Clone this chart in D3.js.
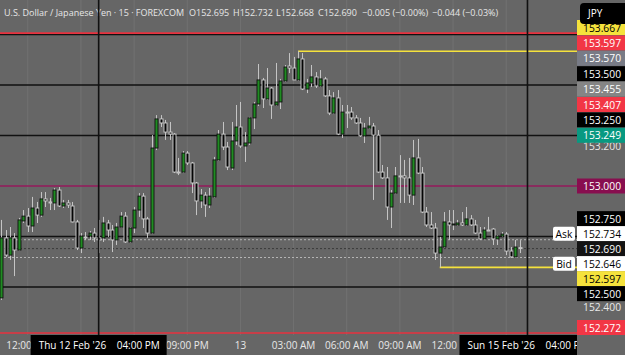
<!DOCTYPE html>
<html>
<head>
<meta charset="utf-8">
<script src="https://cdn.jsdelivr.net/npm/d3@7"></script>
<style>
html, body { margin: 0; padding: 0; background: #666666; overflow: hidden; }
svg { display: block; font-family: "Open Sans", sans-serif; }
</style>
</head>
<body>
<script>
// 15 min candles, USDJPY (FOREXCOM), index 0 = first visible bar
const opens = [152.446,152.743,152.658,152.743,152.683,152.827,152.851,152.802,152.891,152.856,
  152.936,152.921,152.916,152.980,152.901,152.916,152.901,152.822,152.693,152.748,
  152.752,152.767,152.743,152.743,152.817,152.782,152.733,152.797,152.851,152.723,
  152.792,152.881,152.950,152.837,152.767,153.188,153.332,153.312,153.267,153.257,
  153.069,153.069,153.163,153.114,153.015,152.926,152.955,152.906,152.946,153.129,
  153.257,153.193,153.089,153.223,153.292,153.198,153.213,153.337,153.406,153.525,
  153.431,153.485,153.401,153.416,153.520,153.594,153.584,153.525,153.629,153.480,
  153.510,153.540,153.495,153.530,153.446,153.361,153.436,153.257,153.366,153.366,
  153.337,153.312,153.248,153.287,153.297,153.252,153.069,153.040,152.896,152.965,
  153.050,153.050,153.040,152.955,153.139,153.064,152.871,152.807,152.792,152.668,
  152.698,152.822,152.807,152.807,152.817,152.807,152.837,152.807,152.767,152.738,
  152.782,152.787,152.738,152.752,152.762,152.678,152.649,152.695];
const highs = [152.832,152.782,152.797,152.767,152.842,152.881,152.891,152.946,152.921,152.970,
  152.970,152.941,152.990,152.995,152.931,152.931,152.921,152.832,152.767,152.772,
  152.777,152.792,152.832,152.847,152.832,152.807,152.817,152.871,152.871,152.797,
  152.896,152.965,152.965,152.847,153.252,153.351,153.351,153.327,153.317,153.262,
  153.139,153.173,153.173,153.119,153.020,152.985,152.970,152.990,153.144,153.277,
  153.317,153.218,153.317,153.401,153.416,153.267,153.342,153.416,153.604,153.535,
  153.584,153.490,153.609,153.530,153.599,153.658,153.639,153.667,153.658,153.530,
  153.599,153.564,153.574,153.540,153.475,153.465,153.475,153.401,153.401,153.391,
  153.351,153.337,153.312,153.342,153.312,153.277,153.104,153.094,152.980,153.094,
  153.153,153.129,153.139,153.228,153.233,153.094,152.896,152.871,152.817,152.748,
  152.871,152.881,152.881,152.832,152.871,152.896,152.856,152.832,152.797,152.797,
  152.847,152.792,152.757,152.772,152.772,152.698,152.733,152.732];
const lows = [152.436,152.649,152.634,152.554,152.680,152.817,152.772,152.772,152.817,152.847,
  152.896,152.881,152.881,152.896,152.891,152.891,152.820,152.683,152.668,152.733,
  152.733,152.723,152.668,152.723,152.748,152.673,152.708,152.795,152.718,152.718,
  152.767,152.847,152.792,152.743,152.762,153.178,153.292,153.228,153.228,153.064,
  153.054,153.064,153.104,152.965,152.856,152.891,152.847,152.891,152.941,153.124,
  153.178,153.079,153.079,153.203,153.188,153.119,153.203,153.282,153.396,153.386,
  153.426,153.332,153.396,153.381,153.515,153.559,153.525,153.520,153.475,153.460,
  153.490,153.485,153.490,153.441,153.351,153.356,153.252,153.238,153.287,153.327,
  153.307,153.243,153.213,153.282,152.931,153.064,153.035,152.832,152.792,152.960,
  152.916,152.916,152.916,152.906,153.059,152.866,152.797,152.787,152.634,152.597,
  152.693,152.733,152.782,152.802,152.802,152.802,152.802,152.762,152.733,152.733,
  152.777,152.708,152.708,152.748,152.658,152.644,152.644,152.668];
const closes = [152.743,152.658,152.743,152.683,152.832,152.851,152.802,152.891,152.856,152.936,
  152.926,152.916,152.980,152.901,152.916,152.906,152.822,152.693,152.752,152.745,
  152.767,152.743,152.733,152.817,152.782,152.733,152.797,152.851,152.723,152.792,
  152.881,152.950,152.837,152.767,153.188,153.332,153.312,153.267,153.257,153.069,
  153.064,153.163,153.114,153.015,152.926,152.955,152.906,152.950,153.129,153.257,
  153.193,153.094,153.223,153.292,153.198,153.213,153.337,153.406,153.525,153.431,
  153.485,153.401,153.416,153.520,153.589,153.584,153.525,153.629,153.480,153.510,
  153.540,153.495,153.530,153.446,153.361,153.436,153.257,153.366,153.361,153.337,
  153.312,153.248,153.287,153.297,153.252,153.069,153.040,152.896,152.965,153.050,
  153.047,153.040,152.955,153.139,153.064,152.871,152.807,152.792,152.668,152.698,
  152.822,152.807,152.812,152.817,152.807,152.837,152.807,152.767,152.738,152.782,
  152.780,152.738,152.752,152.762,152.678,152.649,152.698,152.690];

// time axis: bar index -> label
const timeTickIdx = [6, 18, 30, 42, 54, 66, 78, 90, 102, 114];
const timeTickLabels = ["12:00 PM","03:00 PM","06:00 PM","09:00 PM","13","03:00 AM","06:00 AM","09:00 AM","12:00 PM","03:00 PM"];

// price axis
const priceTicks = [152.4, 152.6, 152.8, 153.2, 153.4, 153.6, 153.8];
const blackLevels = [153.75, 153.5, 153.25, 152.75, 152.5, 152.25];
const redLevels = [153.757, 152.272];
const roundLevel = 153.0;
const highMark = { idx: 67, price: 153.667 };
const lowMark = { idx: 99, price: 152.597 };
const askPrice = 152.734, lastPrice = 152.690, bidPrice = 152.646;

// crosshair / session markers
const markerIdx = [22, 118.8];
const markerDates = ["Thu 12 Feb '26", "Sun 15 Feb '26"];
const markerTimes = ["04:00 PM", "04:00 PM"];

// right scale tags
const tagTopText = ["153.667","153.597","153.570","153.500","153.455","153.407","153.250","153.249"];
const tagTopFill = ["#f5e23c","#f23645","#787b86","#000000","#858585","#f23645","#000000","#089981"];
const tagTopInk  = ["#000","#fff","#fff","#fff","#fff","#fff","#fff","#fff"];
const tagLowText = ["152.750","152.734","152.690","152.646","152.597","152.500"];
const tagLowFill = ["#000000","#ffffff","#131313","#ffffff","#f5e23c","#000000"];
const tagLowInk  = ["#fff","#000","#fff","#000","#000","#fff"];

const W = 625, H = 355;
const plotRight = 577, plotBottom = 335;
const bg = "#666666";
const boxHalf = 68;

const svg = d3.select("body").append("svg").attr("width", W).attr("height", H);
svg.append("rect").attr("width", W).attr("height", H).attr("fill", bg);

const x = d3.scaleLinear().domain([0, 117]).range([1.2, 519.5]);
const y = d3.scaleLinear().domain([152.25, 153.75]).range([337.5, 34.5]);

const plot = svg.append("g");
const clip = svg.append("clipPath").attr("id", "plotclip");
clip.append("rect").attr("x", 0).attr("y", 0).attr("width", plotRight).attr("height", plotBottom);
plot.attr("clip-path", "url(#plotclip)");

// faint time grid
plot.selectAll(".vgrid").data(timeTickIdx).join("line")
  .attr("x1", d => x(d)).attr("x2", d => x(d))
  .attr("y1", 0).attr("y2", plotBottom)
  .attr("stroke", "#727272").attr("stroke-width", 1);

// header text
const head = svg.append("g").attr("fill", "#e6e6e6").attr("font-size", 9);
head.append("text").attr("x", 4).attr("y", 16).text("U.S. Dollar / Japanese Yen · 15 · FOREXCOM");
const ohlcText = ["O" + opens[117].toFixed(3), "H" + highs[117].toFixed(3), "L" + lows[117].toFixed(3), "C" + closes[117].toFixed(3), "−0.005 (−0.00%)", "−0.044 (−0.03%)"];
const ohlcX = [189, 233, 276, 318, 362, 432];
head.selectAll(".ohlc").data(ohlcText).join("text")
  .attr("x", (d, i) => ohlcX[i]).attr("y", 16).text(d => d);

// level lines
plot.selectAll(".blk").data(blackLevels).join("line")
  .attr("x1", 0).attr("x2", plotRight)
  .attr("y1", d => y(d)).attr("y2", d => y(d))
  .attr("stroke", "#111").attr("stroke-width", 1.6);
plot.selectAll(".red").data(redLevels).join("line")
  .attr("x1", 0).attr("x2", plotRight)
  .attr("y1", d => y(d)).attr("y2", d => y(d))
  .attr("stroke", "#e8323f").attr("stroke-width", 1.6);
plot.append("line").attr("x1", 0).attr("x2", plotRight)
  .attr("y1", y(roundLevel)).attr("y2", y(roundLevel))
  .attr("stroke", "#961a5c").attr("stroke-width", 1.6);

// ask / last / bid dashed
[[askPrice, "#b4b4b4"], [lastPrice, "#3a3a3a"], [bidPrice, "#b4b4b4"]].forEach(([p, c]) => {
  plot.append("line").attr("x1", 0).attr("x2", plotRight)
    .attr("y1", y(p)).attr("y2", y(p))
    .attr("stroke", c).attr("stroke-width", 1).attr("stroke-dasharray", "2,2");
});

// high / low rays
plot.append("line").attr("x1", x(highMark.idx)).attr("x2", plotRight)
  .attr("y1", y(highMark.price)).attr("y2", y(highMark.price))
  .attr("stroke", "#f5e23c").attr("stroke-width", 1.6);
plot.append("line").attr("x1", x(lowMark.idx)).attr("x2", plotRight)
  .attr("y1", y(lowMark.price)).attr("y2", y(lowMark.price))
  .attr("stroke", "#f5e23c").attr("stroke-width", 1.6);

// candles
const bars = d3.range(opens.length);
plot.selectAll(".wick").data(bars).join("line")
  .attr("x1", i => Math.round(x(i)) + 0.5).attr("x2", i => Math.round(x(i)) + 0.5)
  .attr("y1", i => y(highs[i])).attr("y2", i => y(lows[i]))
  .attr("stroke", "#c4c4c4").attr("stroke-width", 1);
plot.selectAll(".body").data(bars).join("rect")
  .attr("x", i => Math.round(x(i)) - 1)
  .attr("width", 3)
  .attr("y", i => y(Math.max(opens[i], closes[i])))
  .attr("height", i => Math.max(1, Math.abs(y(opens[i]) - y(closes[i]))))
  .attr("fill", i => closes[i] >= opens[i] ? "#1f8c22" : "#050505")
  .attr("stroke", i => closes[i] >= opens[i] ? "#111" : "#d2d2d2")
  .attr("stroke-width", 0.9);

// vertical marker lines
svg.selectAll(".mk").data(markerIdx).join("line")
  .attr("x1", d => x(d)).attr("x2", d => x(d))
  .attr("y1", 0).attr("y2", plotBottom)
  .attr("stroke", "#111").attr("stroke-width", 1.6);

// time axis labels (those whose centre sits under a marker box are not shown)
const visibleTicks = timeTickIdx
  .map((d, i) => ({ d, label: timeTickLabels[i] }))
  .filter(t => markerIdx.every(m => Math.abs(x(t.d) - x(m)) > boxHalf));
svg.selectAll(".tl").data(visibleTicks).join("text")
  .attr("x", t => x(t.d)).attr("y", 349)
  .attr("text-anchor", "middle").attr("font-size", 10).attr("fill", "#e8e8e8")
  .text(t => t.label);

const mk = svg.selectAll(".mkl").data(markerIdx).join("g")
  .attr("transform", d => `translate(${x(d)},0)`);
mk.append("rect").attr("x", -boxHalf).attr("y", plotBottom).attr("width", boxHalf * 2).attr("height", 20).attr("fill", "#000");
mk.append("text").attr("x", -60).attr("y", 349).attr("font-size", 10).attr("fill", "#fff")
  .text((d, i) => markerDates[i]);
mk.append("text").attr("x", 18).attr("y", 349).attr("font-size", 10).attr("fill", "#fff")
  .text((d, i) => markerTimes[i]);

// right scale
svg.append("rect").attr("x", plotRight).attr("y", 0).attr("width", W - plotRight).attr("height", H).attr("fill", bg);

// tag layout: top stack pushed under the currency button, lower stack centred on its prices
const tags = [];
const topStep = 15.4;
tagTopText.forEach((t, i) => tags.push({ cy: 27.5 + i * topStep, text: t, fill: tagTopFill[i], ink: tagTopInk[i] }));
tags.push({ cy: y(roundLevel), text: roundLevel.toFixed(3), fill: "#880e4f", ink: "#fff" });
const lowMid = d3.mean(tagLowText, t => y(+t));
const lowStep = 15;
const lowY = k => lowMid + (k - (tagLowText.length - 1) / 2) * lowStep;
tagLowText.forEach((t, i) => tags.push({ cy: lowY(i), text: t, fill: tagLowFill[i], ink: tagLowInk[i] }));
tags.push({ cy: Math.min(y(redLevels[1]), plotBottom - 7.5), text: redLevels[1].toFixed(3), fill: "#f23645", ink: "#fff" });

// plain ticks only where no tag covers them
const freeTicks = priceTicks.filter(p => tags.every(t => Math.abs(t.cy - y(p)) > 9) && y(p) > 30);
svg.selectAll(".pt").data(freeTicks).join("text")
  .attr("x", plotRight + 6).attr("y", d => y(d) + 4)
  .attr("font-size", 10.3).attr("fill", "#e8e8e8")
  .text(d => d.toFixed(3));

const tg = svg.selectAll(".tag").data(tags).join("g")
  .attr("transform", d => `translate(${plotRight},${d.cy})`);
tg.append("rect").attr("x", 0).attr("y", -7.5).attr("width", W - plotRight).attr("height", 15).attr("fill", d => d.fill);
tg.append("text").attr("x", 6).attr("y", 4).attr("font-size", 10.3).attr("fill", d => d.ink).text(d => d.text);

// Ask / Bid flags
[["Ask", 1], ["Bid", 3]].forEach(([t, k]) => {
  const cy = lowY(k);
  svg.append("rect").attr("x", 553).attr("y", cy - 7).attr("width", 22).attr("height", 14).attr("rx", 2).attr("fill", "#fff");
  svg.append("text").attr("x", 564).attr("y", cy + 4).attr("text-anchor", "middle")
    .attr("font-size", 10.3).attr("fill", "#000").text(t);
});

// currency button
svg.append("rect").attr("x", 580).attr("y", 3).attr("width", 50).attr("height", 21).attr("rx", 4).attr("fill", "#000");
svg.append("text").attr("x", 588).attr("y", 17).attr("font-size", 10).attr("fill", "#fff").text("JPY");
</script>
</body>
</html>
